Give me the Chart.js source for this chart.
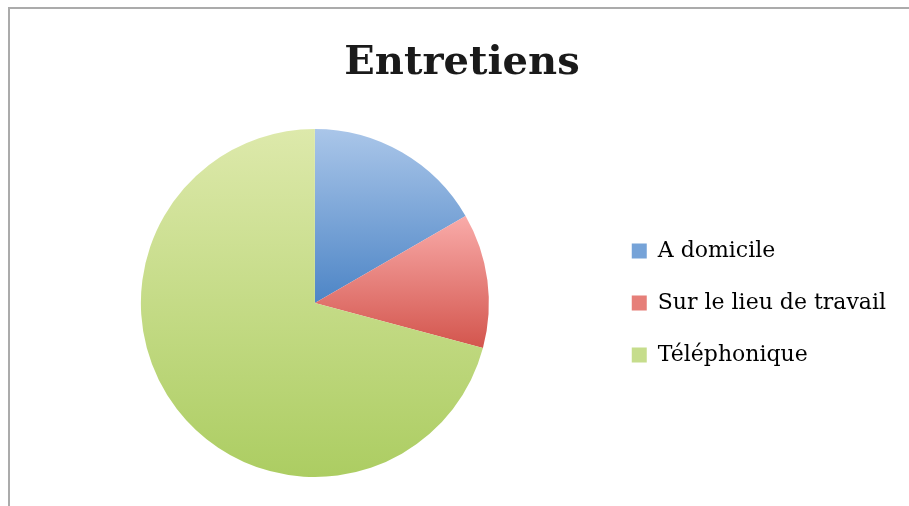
<!DOCTYPE html>
<html>
<head>
<meta charset="utf-8">
<script src="https://cdn.jsdelivr.net/npm/chart.js@4.4.0/dist/chart.umd.min.js"></script>
<style>
  html, body { margin: 0; padding: 0; background: #fff; }
  #wrap { position: relative; width: 909px; height: 506px; }
  #frame {
    position: absolute; left: 8px; top: 7px; right: 0; bottom: 0;
    border-left: 2px solid #ababab; border-top: 2px solid #ababab;
    pointer-events: none;
  }
</style>
</head>
<body>
<div id="wrap">
  <canvas id="camembert" width="909" height="506"></canvas>
  <div id="frame"></div>
</div>
<script>
const categories = ['A domicile', 'Sur le lieu de travail', 'Téléphonique'];
const valeurs = [4, 3, 17];
// haut / bas du dégradé de chaque part
const couleursHaut = ['#aac6e9', '#f9aba9', '#dde9ab'];
const couleursBas = ['#4d85c6', '#d3554d', '#accd62'];
const couleursLegende = ['#76a3d8', '#e67f79', '#c6dd8c'];

// dégradé vertical sur la hauteur de chaque part
const degradePlugin = {
  id: 'degrade',
  beforeDatasetsDraw(chart) {
    const ctx = chart.ctx;
    chart.getDatasetMeta(0).data.forEach((arc, i) => {
      const r = arc.outerRadius;
      const a0 = arc.startAngle, a1 = arc.endAngle;
      let ys = [arc.y, arc.y + r * Math.sin(a0), arc.y + r * Math.sin(a1)];
      [-Math.PI / 2, Math.PI / 2].forEach(t => {
        for (let k = -2; k <= 2; k++) {
          const a = t + k * 2 * Math.PI;
          if (a >= a0 && a <= a1) ys.push(arc.y + r * Math.sin(a));
        }
      });
      const g = ctx.createLinearGradient(0, Math.min(...ys), 0, Math.max(...ys));
      g.addColorStop(0, couleursHaut[i]);
      g.addColorStop(1, couleursBas[i]);
      arc.options.backgroundColor = g;
    });
  }
};

new Chart(document.getElementById('camembert').getContext('2d'), {
  type: 'pie',
  data: {
    labels: categories,
    datasets: [{
      data: valeurs,
      backgroundColor: couleursBas,
      borderWidth: 0
    }]
  },
  options: {
    responsive: false,
    animation: false,
    layout: { padding: { top: 8, left: 28, right: 13, bottom: 29 } },
    plugins: {
      title: {
        display: true,
        text: 'Entretiens',
        color: '#1a1a1a',
        font: { family: 'DejaVu Serif', size: 40, weight: 'bold' },
        padding: { top: 32, bottom: 41 }
      },
      legend: {
        position: 'right',
        fullSize: false,
        labels: {
          color: '#222',
          font: { family: 'DejaVu Serif', size: 22 },
          boxWidth: 15,
          boxHeight: 15,
          padding: 30,
          generateLabels(chart) {
            return categories.map((c, i) => ({
              text: c,
              fillStyle: couleursLegende[i],
              strokeStyle: 'transparent',
              lineWidth: 0,
              index: i
            }));
          }
        }
      },
      tooltip: { enabled: false }
    }
  },
  plugins: [degradePlugin]
});
</script>
</body>
</html>
